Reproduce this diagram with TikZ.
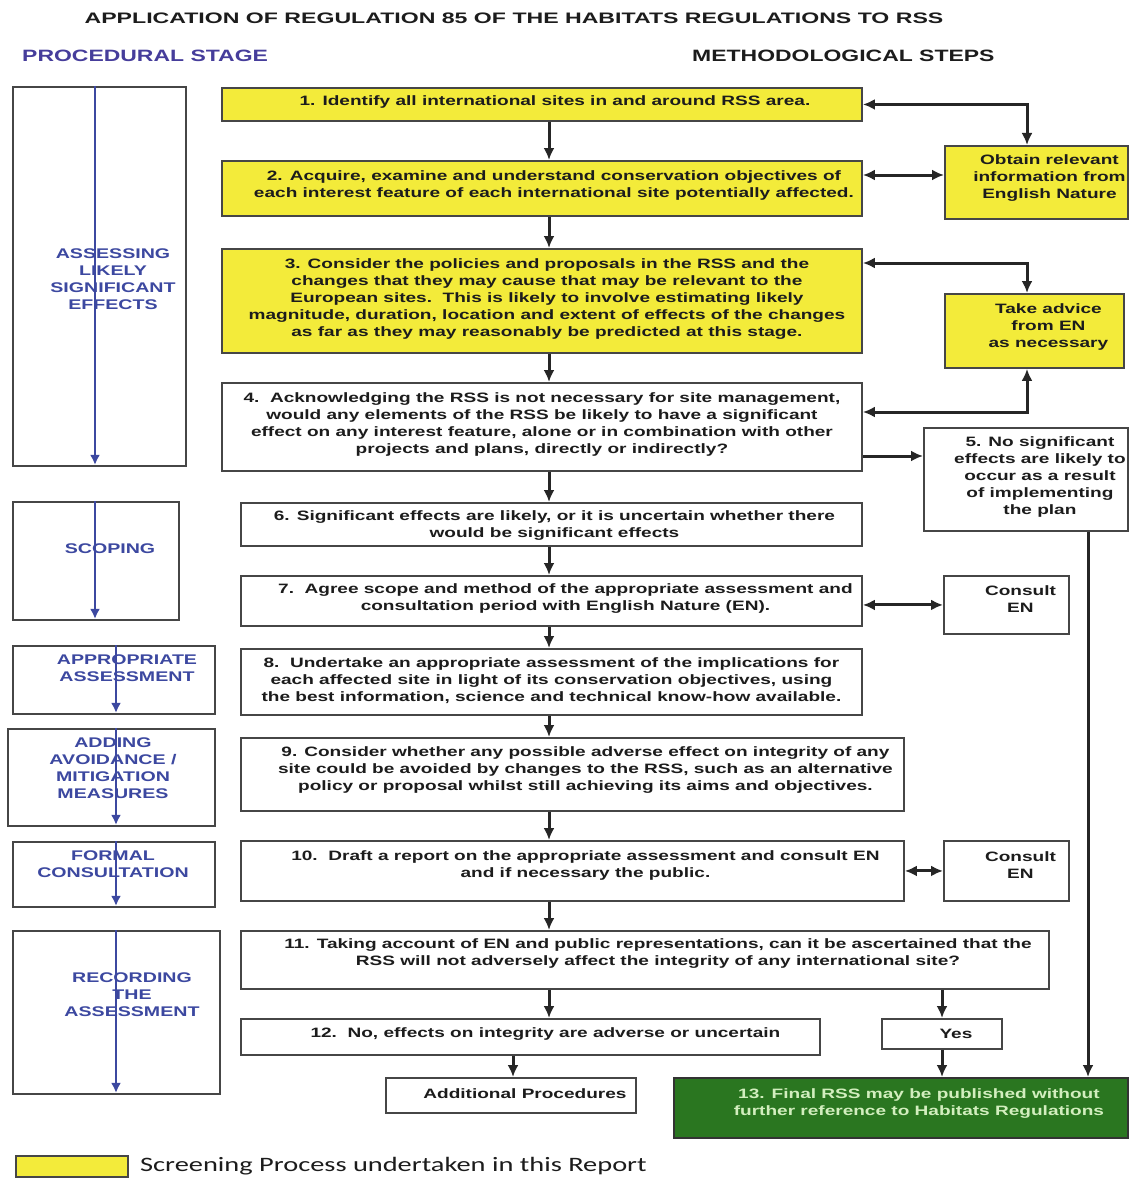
\documentclass[tikz,border=0pt]{standalone}
\usepackage{fontspec}
\setmainfont{Liberation Sans}
\newfontfamily\bxf[FakeStretch=1.4]{Liberation Sans}
\newfontfamily\ttf[FakeStretch=1.52]{Liberation Sans}
\newfontfamily\lgf[FakeStretch=1.385]{Carlito}
\usetikzlibrary{arrows.meta,calc}
\definecolor{ybox}{RGB}{243,235,58}
\definecolor{edge}{RGB}{70,70,70}
\definecolor{txtc}{RGB}{28,28,28}
\definecolor{stblue}{RGB}{60,72,160}
\definecolor{gbox}{RGB}{42,118,32}
\definecolor{gtxt}{RGB}{210,238,190}
\tikzset{
  sz/.style 2 args={minimum width=#1, minimum height=#2, anchor=north west},
  wbox/.style={draw=edge, line width=1.9pt, fill=white, inner sep=0pt},
  ybx/.style={wbox, fill=ybox},
  gbx/.style={draw=black!80, line width=1.9pt, fill=gbox, inner sep=0pt},
  tx/.style={align=center, text=txtc, inner sep=0pt, font=\bxf\bfseries\fontsize{13.6}{17}\selectfont},
  gtx/.style={tx, text=gtxt},
  stx/.style={align=center, text=stblue, inner sep=0pt, font=\bxf\bfseries\fontsize{14}{17}\selectfont},
  arr/.style={draw=black!85, line width=3pt, -{Latex[length=12pt,width=11pt]}},
  darr/.style={draw=black!85, line width=3pt, {Latex[length=12pt,width=11pt]}-{Latex[length=12pt,width=11pt]}},
  blarr/.style={draw=stblue, line width=2.5pt, -{Latex[length=10pt,width=10pt]}},
}
\begin{document}
\begin{tikzpicture}[x=1pt,y=-1pt]
\useasboundingbox[fill=white] (0,0) rectangle (1129,1180);

% headings
\node[inner sep=0pt, text=txtc, font=\ttf\bfseries\fontsize{15.2}{18}\selectfont] (title) at (514,18) {APPLICATION OF REGULATION 85 OF THE HABITATS REGULATIONS TO RSS};
\node[inner sep=0pt, anchor=west, text=stblue!85!violet, font=\bxf\bfseries\fontsize{16.4}{20}\selectfont] (hproc) at (22,56) {PROCEDURAL STAGE};
\node[inner sep=0pt, anchor=west, text=txtc, font=\bxf\bfseries\fontsize{16.4}{20}\selectfont] (hmeth) at (692,56) {METHODOLOGICAL STEPS};

% axis coordinates
\coordinate (mx) at (549,0);
\coordinate (ex) at (1027,0);
\coordinate (yx) at (942,0);
\coordinate (ax) at (513,0);
\coordinate (rx) at (1088,0);
\coordinate (sa1) at (95,0);
\coordinate (sa2) at (116,0);
\coordinate (h2) at (0,175);
\coordinate (h3) at (0,263);
\coordinate (h4) at (0,412);
\coordinate (h45) at (0,456);

% stage boxes
\node[wbox, sz={173}{379}] (s1) at (12,86) {};
\node[wbox, sz={166}{118}] (s2) at (12,501) {};
\node[wbox, sz={202}{68}] (s3) at (12,645) {};
\node[wbox, sz={207}{97}] (s4) at (7,728) {};
\node[wbox, sz={202}{65}] (s5) at (12,841) {};
\node[wbox, sz={207}{163}] (s6) at (12,930) {};

\node[stx] (st1) at (113,279) {ASSESSING\\LIKELY\\SIGNIFICANT\\EFFECTS};
\node[stx] (st2) at (110,549) {SCOPING};
\node[stx] (st3) at (127,668) {APPROPRIATE\\ASSESSMENT};
\node[stx] (st4) at (113,768) {ADDING\\AVOIDANCE /\\MITIGATION\\MEASURES};
\node[stx] (st5) at (113,864) {FORMAL\\CONSULTATION};
\node[stx] (st6) at (132,995) {RECORDING\\THE\\ASSESSMENT};

\draw[blarr] (s1.north -| sa1) -- ([yshift=2pt]s1.south -| sa1);
\draw[blarr] (s2.north -| sa1) -- ([yshift=2pt]s2.south -| sa1);
\draw[blarr] (s3.north -| sa2) -- ([yshift=2pt]s3.south -| sa2);
\draw[blarr] (s4.north -| sa2) -- ([yshift=2pt]s4.south -| sa2);
\draw[blarr] (s5.north -| sa2) -- ([yshift=2pt]s5.south -| sa2);
\draw[blarr] (s6.north -| sa2) -- ([yshift=2pt]s6.south -| sa2);

% step boxes
\node[ybx, sz={640}{33}] (b1) at (221,87) {};
\node[ybx, sz={640}{55}] (b2) at (221,160) {};
\node[ybx, sz={640}{104}] (b3) at (221,248) {};
\node[wbox, sz={640}{88}] (b4) at (221,382) {};
\node[ybx, sz={183}{73}] (obt) at (944,145) {};
\node[ybx, sz={179}{74}] (adv) at (944,293) {};
\node[wbox, sz={204}{103}] (b5) at (923,427) {};
\node[wbox, sz={621}{43}] (b6) at (240,502) {};
\node[wbox, sz={621}{50}] (b7) at (240,575) {};
\node[wbox, sz={125}{58}] (ce1) at (943,575) {};
\node[wbox, sz={621}{66}] (b8) at (240,648) {};
\node[wbox, sz={663}{73}] (b9) at (240,737) {};
\node[wbox, sz={663}{60}] (b10) at (240,840) {};
\node[wbox, sz={125}{60}] (ce2) at (943,840) {};
\node[wbox, sz={808}{58}] (b11) at (240,930) {};
\node[wbox, sz={579}{36}] (b12) at (240,1018) {};
\node[wbox, sz={120}{30}] (yes) at (881,1018) {};
\node[wbox, sz={250}{35}] (add) at (385,1077) {};
\node[gbx, sz={454}{60}] (b13) at (673,1077) {};

% texts
\node[tx] (t1) at ($(b1.center)+(13,-2)$) {1. Identify all international sites in and around RSS area.};
\node[tx] (t2) at ($(b2.center)+(12,-3)$) {2. Acquire, examine and understand conservation objectives of\\each interest feature of each international site potentially affected.};
\node[tx] (t3) at ($(b3.center)+(5,-2)$) {3. Consider the policies and proposals in the RSS and the\\changes that they may cause that may be relevant to the\\European sites.\ \ This is likely to involve estimating likely\\magnitude, duration, location and extent of effects of the changes\\as far as they may reasonably be predicted at this stage.};
\node[tx] (t4) at ($(b4.center)+(0,-2.5)$) {4.\ \ Acknowledging the RSS is not necessary for site management,\\would any elements of the RSS be likely to have a significant\\effect on any interest feature, alone or in combination with other\\projects and plans, directly or indirectly?};
\node[tx] (tobt) at ($(obt.center)+(13,-4.5)$) {Obtain relevant\\information from\\English Nature};
\node[tx] (tadv) at ($(adv.center)+(14,-4)$) {Take advice\\from EN\\as necessary};
\node[tx] (t5) at ($(b5.center)+(14,-2.5)$) {5. No significant\\effects are likely to\\occur as a result\\of implementing\\the plan};
\node[tx] (t6) at ($(b6.center)+(3,1)$) {6. Significant effects are likely, or it is uncertain whether there\\would be significant effects};
\node[tx] (t7) at ($(b7.center)+(14,-2)$) {7.\ \ Agree scope and method of the appropriate assessment and\\consultation period with English Nature (EN).};
\node[tx] (tce1) at ($(ce1.center)+(14,-6)$) {Consult\\EN};
\node[tx] (t8) at ($(b8.center)+(0,-1.5)$) {8.\ \ Undertake an appropriate assessment of the implications for\\each affected site in light of its conservation objectives, using\\the best information, science and technical know-how available.};
\node[tx] (t9) at ($(b9.center)+(13,-4.5)$) {9. Consider whether any possible adverse effect on integrity of any\\site could be avoided by changes to the RSS, such as an alternative\\policy or proposal whilst still achieving its aims and objectives.};
\node[tx] (t10) at ($(b10.center)+(13,-5.5)$) {10.\ \ Draft a report on the appropriate assessment and consult EN\\and if necessary the public.};
\node[tx] (tce2) at ($(ce2.center)+(14,-5.5)$) {Consult\\EN};
\node[tx] (t11) at ($(b11.center)+(13,-6.5)$) {11. Taking account of EN and public representations, can it be ascertained that the\\RSS will not adversely affect the integrity of any international site?};
\node[tx] (t12) at ($(b12.center)+(15,-3)$) {12.\ \ No, effects on integrity are adverse or uncertain};
\node[tx] (tyes) at ($(yes.center)+(14,0)$) {Yes};
\node[tx] (tadd) at ($(add.center)+(14,-1.5)$) {Additional Procedures};
\node[gtx] (t13) at ($(b13.center)+(18,-4.5)$) {13. Final RSS may be published without\\further reference to Habitats Regulations};

% connectors
\draw[arr] (b1.south -| mx) -- (b2.north -| mx);
\draw[arr] (b2.south -| mx) -- (b3.north -| mx);
\draw[arr] (b3.south -| mx) -- (b4.north -| mx);
\draw[arr] (b4.south -| mx) -- (b6.north -| mx);
\draw[arr] (b6.south -| mx) -- (b7.north -| mx);
\draw[arr] (b7.south -| mx) -- (b8.north -| mx);
\draw[arr] (b8.south -| mx) -- (b9.north -| mx);
\draw[arr] (b9.south -| mx) -- (b10.north -| mx);
\draw[arr] (b10.south -| mx) -- (b11.north -| mx);
\draw[arr] (b11.south -| mx) -- (b12.north -| mx);
\draw[arr] (b12.south -| ax) -- (add.north -| ax);
\draw[arr] (b11.south -| yx) -- (yes.north -| yx);
\draw[arr] (yes.south -| yx) -- (b13.north -| yx);
\draw[arr] (b5.south -| rx) -- (b13.north -| rx);
\draw[arr] (b4.east |- h45) -- (b5.west |- h45);
\draw[darr] (b1.east) -| (obt.north -| ex);
\draw[darr] (b2.east |- h2) -- (obt.west |- h2);
\draw[darr] (b3.east |- h3) -| (adv.north -| ex);
\draw[darr] (adv.south -| ex) |- (b4.east |- h4);
\draw[darr] (b7.east |- ce1.west) -- (ce1.west);
\draw[darr] (b10.east) -- (ce2.west);

% legend
\node[ybx, sz={112}{21}] (lg) at (15,1155) {};
\node[anchor=west, inner sep=0pt, text=txtc, font=\lgf\fontsize{20.5}{24}\selectfont] (lgt) at (140,1166) {Screening Process undertaken in this Report};
\end{tikzpicture}
\end{document}
